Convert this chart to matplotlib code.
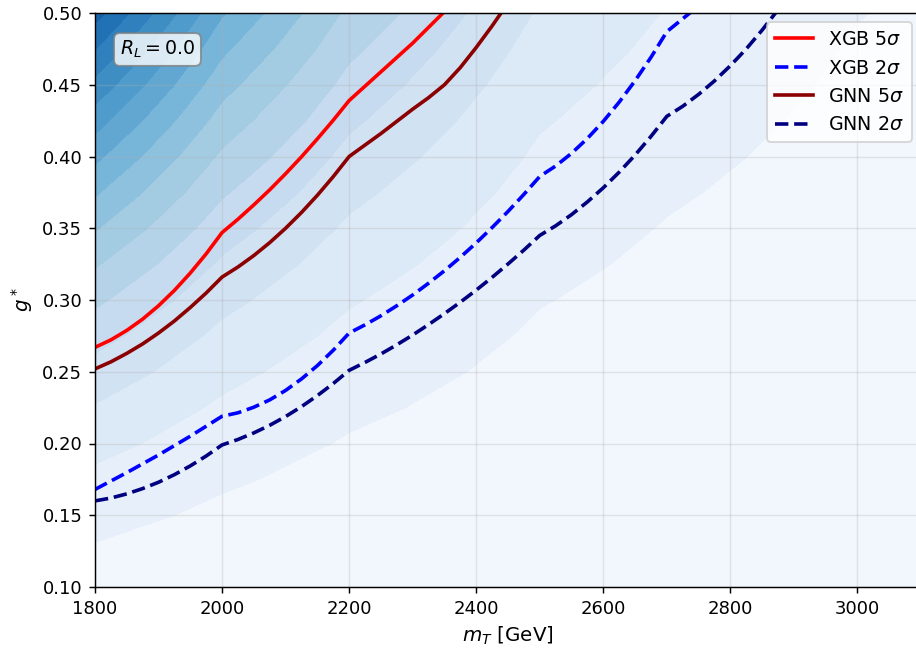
import matplotlib
matplotlib.use('Agg')
import matplotlib.pyplot as plt
import numpy as np

# background yield grid (arbitrary units) on the mass x coupling grid
mass_grid = [1800, 2000, 2200, 2500, 2700, 3000, 3100]
g_grid = [0.100, 0.125, 0.150, 0.175, 0.200, 0.225, 0.250, 0.275, 0.300,
          0.325, 0.350, 0.375, 0.400, 0.425, 0.450, 0.475, 0.500]
yield_grid = [
    [1.00, 0.63, 0.40, 0.20, 0.135, 0.071, 0.060],
    [1.56, 0.98, 0.63, 0.31, 0.21, 0.11, 0.09],
    [2.25, 1.42, 0.90, 0.45, 0.30, 0.16, 0.135],
    [3.06, 1.93, 1.23, 0.61, 0.41, 0.22, 0.18],
    [4.00, 2.52, 1.60, 0.80, 0.54, 0.28, 0.24],
    [5.06, 3.19, 2.03, 1.01, 0.68, 0.36, 0.30],
    [6.25, 3.94, 2.50, 1.25, 0.84, 0.44, 0.375],
    [7.56, 4.76, 3.03, 1.51, 1.02, 0.54, 0.45],
    [9.00, 5.67, 3.60, 1.80, 1.22, 0.64, 0.54],
    [10.56, 6.65, 4.23, 2.11, 1.43, 0.75, 0.63],
    [12.25, 7.72, 4.90, 2.45, 1.65, 0.87, 0.735],
    [14.06, 8.86, 5.63, 2.81, 1.90, 1.00, 0.84],
    [16.00, 10.08, 6.40, 3.20, 2.16, 1.14, 0.96],
    [18.06, 11.38, 7.23, 3.61, 2.44, 1.28, 1.08],
    [20.25, 12.76, 8.10, 4.05, 2.73, 1.44, 1.215],
    [22.56, 14.21, 9.03, 4.51, 3.05, 1.60, 1.35],
    [25.00, 15.75, 10.00, 5.00, 3.38, 1.78, 1.50],
]

# significance curves
m_xgb5 = [1800, 1825, 1850, 1875, 1900, 1925, 1950, 1975, 2000, 2025, 2050, 2075, 2100,
          2125, 2150, 2175, 2200, 2250, 2300, 2350, 2400]
g_xgb5 = [0.267, 0.2722, 0.2788, 0.2867, 0.296, 0.3067, 0.3188, 0.3322, 0.347, 0.3563, 0.3663,
          0.3768, 0.388, 0.3998, 0.4123, 0.4253, 0.439, 0.459, 0.479, 0.501, 0.523]

m_gnn5 = [1800, 1825, 1850, 1875, 1900, 1925, 1950, 1975, 2000, 2025, 2050, 2075, 2100,
          2125, 2150, 2175, 2200, 2225, 2250, 2275, 2300, 2325, 2350, 2375, 2400, 2425, 2450,
          2475, 2500]
g_gnn5 = [0.252, 0.2569, 0.2628, 0.2694, 0.277, 0.2854, 0.2948, 0.3049, 0.316, 0.323, 0.331,
          0.340, 0.350, 0.361, 0.373, 0.386, 0.400, 0.408, 0.416, 0.4245, 0.433, 0.441, 0.450,
          0.462, 0.476, 0.491, 0.507, 0.523, 0.540]

m_xgb2 = [1800, 1850, 1900, 1950, 2000, 2025, 2050, 2075, 2100, 2125, 2150, 2175, 2200,
          2225, 2250, 2275, 2300, 2325, 2350, 2375, 2400, 2425, 2450, 2475, 2500,
          2525, 2550, 2575, 2600, 2625, 2650, 2675, 2700, 2750, 2800]
g_xgb2 = [0.168, 0.1797, 0.192, 0.2051, 0.219, 0.2214, 0.2253, 0.2304, 0.237, 0.245, 0.2543,
          0.265, 0.277, 0.2827, 0.289, 0.296, 0.3035, 0.3117, 0.3204, 0.3298, 0.3398, 0.3505,
          0.3617, 0.3736, 0.3861, 0.3934, 0.4022, 0.4126, 0.4245, 0.4379, 0.4528, 0.4691,
          0.487, 0.505, 0.523]

m_gnn2 = [1800, 1825, 1850, 1875, 1900, 1925, 1950, 1975, 2000, 2025, 2050, 2075, 2100,
          2125, 2150, 2175, 2200, 2225, 2250, 2275, 2300, 2325, 2350, 2375, 2400, 2425, 2450,
          2475, 2500, 2525, 2550, 2575, 2600, 2625, 2650, 2675, 2700, 2725, 2750, 2775, 2800,
          2825, 2850, 2875, 2900]
g_gnn2 = [0.160, 0.162, 0.1649, 0.1686, 0.173, 0.1783, 0.1844, 0.1913, 0.199, 0.2028, 0.2074,
          0.2127, 0.2188, 0.2257, 0.2334, 0.2418, 0.251, 0.2565, 0.2624, 0.2688, 0.2756, 0.2829,
          0.2905, 0.2985, 0.3069, 0.3158, 0.3251, 0.3348, 0.345, 0.3517, 0.3595, 0.3684, 0.3782,
          0.3891, 0.401, 0.414, 0.428, 0.435, 0.4433, 0.4527, 0.4633, 0.475, 0.4881, 0.5023, 0.5176]

fig = plt.figure(figsize=(916 / 130, 650 / 130), dpi=130)
ax = fig.add_axes([95 / 916, 1 - 587 / 650, (921 - 95) / 916, (587 - 13) / 650])

levels = np.linspace(0, 31.14, 19)
ax.contourf(mass_grid, g_grid, np.array(yield_grid), levels=levels, cmap='Blues')

ax.plot(m_xgb5, g_xgb5, color='red', lw=2, label=r'XGB 5$\sigma$')
ax.plot(m_xgb2, g_xgb2, color='blue', lw=2, ls='--', label=r'XGB 2$\sigma$')
ax.plot(m_gnn5, g_gnn5, color='darkred', lw=2, label=r'GNN 5$\sigma$')
ax.plot(m_gnn2, g_gnn2, color='navy', lw=2, ls='--', label=r'GNN 2$\sigma$')

ax.set_xlim(1800, 3100)
ax.set_ylim(0.10, 0.50)
ax.set_xlabel(r'$m_T$ [GeV]', fontsize=11)
ax.set_ylabel(r'$g^*$', fontsize=11)
ax.grid(True, alpha=0.3)
ax.legend(loc='upper right', fontsize=10.5)
ax.text(0.03, 0.955, r'$R_L = 0.0$', transform=ax.transAxes, fontsize=10.5, va='top',
        bbox=dict(boxstyle='round', facecolor='white', alpha=0.8, edgecolor='gray'))

fig.savefig('out.png', dpi=130)
